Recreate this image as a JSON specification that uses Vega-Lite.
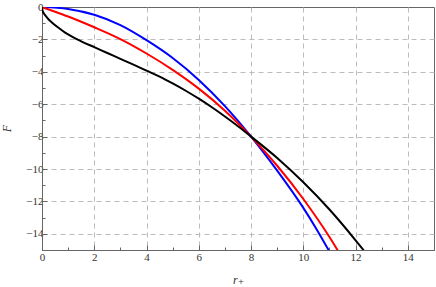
{
  "$schema": "https://vega.github.io/schema/vega-lite/v6.json",
  "width": 392,
  "height": 243,
  "autosize": "none",
  "padding": {"left": 42, "top": 7, "right": 2, "bottom": 37},
  "background": "white",
  "config": {
    "view": {"stroke": "#666", "strokeWidth": 1},
    "font": "'Liberation Serif', 'DejaVu Serif', serif"
  },
  "datasets": {
    "curves": [
      {"r": 0, "F": 0, "s": "blue"},
      {"r": 1, "F": -0.12, "s": "blue"},
      {"r": 2, "F": -0.48, "s": "blue"},
      {"r": 3, "F": -1.12, "s": "blue"},
      {"r": 4, "F": -2.05, "s": "blue"},
      {"r": 5, "F": -3.15, "s": "blue"},
      {"r": 6, "F": -4.5, "s": "blue"},
      {"r": 7, "F": -6.12, "s": "blue"},
      {"r": 8, "F": -8.0, "s": "blue"},
      {"r": 9, "F": -10.1, "s": "blue"},
      {"r": 10, "F": -12.4, "s": "blue"},
      {"r": 10.5, "F": -13.7, "s": "blue"},
      {"r": 11, "F": -15.1, "s": "blue"},
      {"r": 0, "F": 0, "s": "red"},
      {"r": 0.5, "F": -0.29, "s": "red"},
      {"r": 1, "F": -0.59, "s": "red"},
      {"r": 1.5, "F": -0.91, "s": "red"},
      {"r": 2, "F": -1.25, "s": "red"},
      {"r": 3, "F": -1.98, "s": "red"},
      {"r": 4, "F": -2.87, "s": "red"},
      {"r": 5, "F": -3.88, "s": "red"},
      {"r": 6, "F": -5.04, "s": "red"},
      {"r": 7, "F": -6.4, "s": "red"},
      {"r": 8, "F": -8.0, "s": "red"},
      {"r": 9, "F": -9.8, "s": "red"},
      {"r": 10, "F": -11.85, "s": "red"},
      {"r": 11, "F": -14.2, "s": "red"},
      {"r": 11.4, "F": -15.25, "s": "red"},
      {"r": 0, "F": 0, "s": "black"},
      {"r": 0.01, "F": -0.15, "s": "black"},
      {"r": 0.03, "F": -0.27, "s": "black"},
      {"r": 0.08, "F": -0.42, "s": "black"},
      {"r": 0.15, "F": -0.57, "s": "black"},
      {"r": 0.24, "F": -0.74, "s": "black"},
      {"r": 0.4, "F": -0.98, "s": "black"},
      {"r": 0.62, "F": -1.27, "s": "black"},
      {"r": 0.9, "F": -1.6, "s": "black"},
      {"r": 1.13, "F": -1.82, "s": "black"},
      {"r": 1.5, "F": -2.12, "s": "black"},
      {"r": 2, "F": -2.48, "s": "black"},
      {"r": 2.5, "F": -2.84, "s": "black"},
      {"r": 3, "F": -3.2, "s": "black"},
      {"r": 3.5, "F": -3.56, "s": "black"},
      {"r": 4, "F": -3.93, "s": "black"},
      {"r": 4.5, "F": -4.3, "s": "black"},
      {"r": 5, "F": -4.72, "s": "black"},
      {"r": 5.5, "F": -5.17, "s": "black"},
      {"r": 6, "F": -5.66, "s": "black"},
      {"r": 6.5, "F": -6.19, "s": "black"},
      {"r": 7, "F": -6.76, "s": "black"},
      {"r": 7.5, "F": -7.36, "s": "black"},
      {"r": 8, "F": -8.0, "s": "black"},
      {"r": 9, "F": -9.32, "s": "black"},
      {"r": 10, "F": -10.82, "s": "black"},
      {"r": 11, "F": -12.5, "s": "black"},
      {"r": 12, "F": -14.4, "s": "black"},
      {"r": 12.35, "F": -15.1, "s": "black"}
    ]
  },
  "data": {"name": "curves"},
  "encoding": {
    "x": {
      "field": "r",
      "type": "quantitative",
      "scale": {"domain": [0, 15], "nice": false, "zero": false},
      "axis": {
        "title": "r₊",
        "titleFont": "'Liberation Serif', 'DejaVu Serif', serif",
        "titleFontStyle": "italic",
        "titleFontWeight": "normal",
        "titleFontSize": 12,
        "titleColor": "#333",
        "titleY": 24,
        "values": [0,0.5,1,1.5,2,2.5,3,3.5,4,4.5,5,5.5,6,6.5,7,7.5,8,8.5,9,9.5,10,10.5,11,11.5,12,12.5,13,13.5,14,14.5,15],
        "format": "d",
        "labelExpr": "datum.value % 2 === 0 ? datum.label : ''",
        "labelFont": "'Liberation Serif', 'DejaVu Serif', serif",
        "labelFontSize": 11,
        "labelColor": "#333",
        "labelPadding": 6,
        "labelFlush": false,
        "labelOverlap": false,
        "domainColor": "#666",
        "tickColor": "#666",
        "tickSize": {"condition": {"test": "datum.value % 2 === 0", "value": -5}, "value": -3},
        "grid": true,
        "gridColor": "#bbb",
        "gridDash": [5, 4],
        "gridOpacity": {"condition": {"test": "datum.value % 2 === 0 && datum.value > 0 && datum.value < 15", "value": 1}, "value": 0}
      }
    },
    "y": {
      "field": "F",
      "type": "quantitative",
      "scale": {"domain": [-15, 0], "nice": false, "zero": false},
      "axis": {
        "title": "F",
        "titleFont": "'Liberation Serif', 'DejaVu Serif', serif",
        "titleFontStyle": "italic",
        "titleFontWeight": "normal",
        "titleFontSize": 12,
        "titleColor": "#333",
        "titleX": -29,
        "titleY": 121,
        "values": [-15,-14.5,-14,-13.5,-13,-12.5,-12,-11.5,-11,-10.5,-10,-9.5,-9,-8.5,-8,-7.5,-7,-6.5,-6,-5.5,-5,-4.5,-4,-3.5,-3,-2.5,-2,-1.5,-1,-0.5,0],
        "format": "d",
        "labelExpr": "datum.value % 2 === 0 ? datum.label : ''",
        "labelFont": "'Liberation Serif', 'DejaVu Serif', serif",
        "labelFontSize": 11,
        "labelColor": "#333",
        "labelPadding": 4,
        "labelFlush": false,
        "labelOverlap": false,
        "domainColor": "#666",
        "tickColor": "#666",
        "tickSize": {"condition": {"test": "datum.value % 2 === 0", "value": -5}, "value": -3},
        "grid": true,
        "gridColor": "#bbb",
        "gridDash": [5, 4],
        "gridOpacity": {"condition": {"test": "datum.value % 2 === 0 && datum.value < 0 && datum.value > -15", "value": 1}, "value": 0}
      }
    }
  },
  "layer": [
    {
      "transform": [{"filter": "datum.s === 'blue'"}],
      "mark": {"type": "line", "color": "#0000ff", "strokeWidth": 2, "interpolate": "monotone", "clip": true}
    },
    {
      "transform": [{"filter": "datum.s === 'red'"}],
      "mark": {"type": "line", "color": "#ff0000", "strokeWidth": 2, "interpolate": "monotone", "clip": true}
    },
    {
      "transform": [{"filter": "datum.s === 'black'"}],
      "mark": {"type": "line", "color": "#000000", "strokeWidth": 2, "interpolate": "monotone", "clip": true}
    }
  ]
}
